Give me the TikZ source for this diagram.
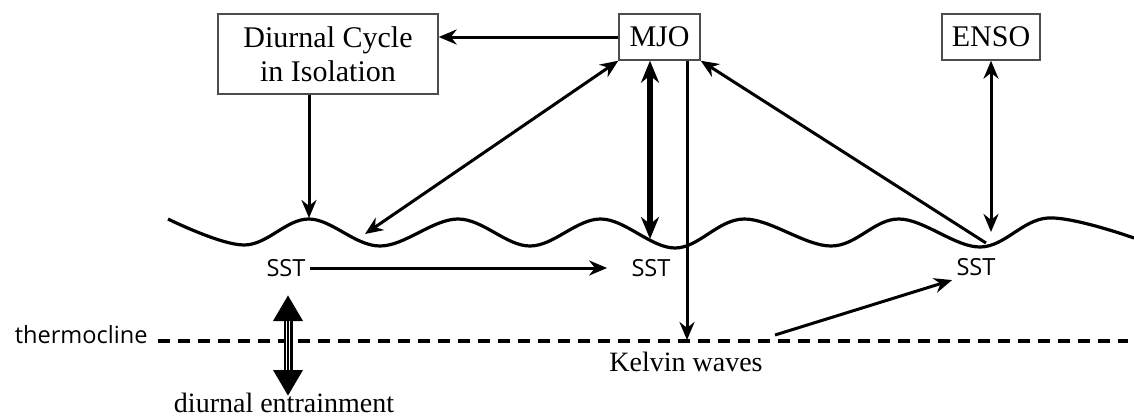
\documentclass[tikz,border=0pt]{standalone}
\usepackage{fontspec}
\setmainfont{Liberation Serif}
\setsansfont{Open Sans}
\usetikzlibrary{arrows.meta}

\begin{document}
\begin{tikzpicture}[
    x=0.5pt, y=-0.5pt,
    box/.style={draw=black!70, line width=0.7pt, font=\fontsize{15}{17}\selectfont, align=center, inner sep=0pt},
    sst/.style={font=\sffamily\fontsize{11.8}{13}\selectfont, inner sep=2pt},
    lbl/.style={font=\fontsize{14}{16}\selectfont, inner sep=0pt},
    arr/.style={line width=1.5pt, -{Stealth[length=9pt, width=7.5pt]}},
    dbl/.style={line width=1.5pt, {Stealth[length=9pt, width=7.5pt]}-{Stealth[length=9pt, width=7.5pt]}},
    thermoline/.style={line width=1.7pt, dash pattern=on 6pt off 4pt}
]
   \useasboundingbox (0,0) rectangle (1134,418);

   % Boxes
   \node[box, minimum width=110pt, minimum height=40pt] (diurnal) at (328,54) {Diurnal Cycle\\in Isolation};
   \node[box, minimum width=40.5pt, minimum height=23pt] (mjo) at (659.5,37) {MJO};
   \node[box, minimum width=49pt, minimum height=23pt] (enso) at (991,37) {ENSO};

   % Sea surface
   \draw[line width=1.6pt] plot[smooth, tension=0.6] coordinates {
      (168,219) (244,245) (309,219) (380,246) (458,219) (530,246) (601,219)
      (675,248) (744,219) (831,246) (899,219) (980,247) (1048,218) (1134,238)};

   % Points on the surface and the thermocline
   \coordinate (w1) at (309,218);
   \coordinate (w2) at (365,234);
   \coordinate (w3) at (650,239);
   \coordinate (w4) at (986,243);
   \coordinate (w5) at (991,232);
   \coordinate (k1) at (687,340);
   \coordinate (k2) at (775,335);
   \coordinate (th1) at (1128,341);
   \coordinate (e1) at (288,295);
   \coordinate (e2) at (288,396);

   % Labels
   \node[sst] (sst1) at (286,268) {SST};
   \node[sst] (sst2) at (651,268) {SST};
   \node[sst] (sst3) at (976,267) {SST};
   \node[sst, anchor=east] (thermo) at (152,335) {thermocline};
   \node[lbl] (kelvin) at (686,362) {Kelvin waves};
   \node[lbl] (entrain) at (284,403) {diurnal entrainment};

   % Thermocline
   \draw[thermoline] ([xshift=3pt]thermo.east |- th1) -- (th1);

   % Connections
   \path[arr]
   (mjo.west) edge (diurnal.east |- mjo.west)
   (diurnal.south -| w1) edge (w1)
   (mjo.south -| k1) edge (k1)
   (w4) edge (mjo.south east)
   (k2) edge (sst3.south west)
   (sst1.east) edge[shorten >=10pt] (sst2.west);

   \path[dbl]
   (w2) edge (mjo.south west)
   (enso.south) edge (w5);

   \draw[line width=2.8pt, {Stealth[length=11pt, width=9pt]}-{Stealth[length=11pt, width=9pt]}]
      (mjo.south -| w3) -- (w3);

   % diurnal entrainment
   \draw[line width=4.5pt, {Triangle[length=13pt, width=14pt]}-{Triangle[length=13pt, width=14pt]}] (e1) -- (e2);
   \draw[white, line width=2.4pt, shorten <=13pt, shorten >=13pt] (e1) -- (e2);
   \draw[line width=0.6pt, shorten <=13pt, shorten >=13pt] (e1) -- (e2);
\end{tikzpicture}
\end{document}
